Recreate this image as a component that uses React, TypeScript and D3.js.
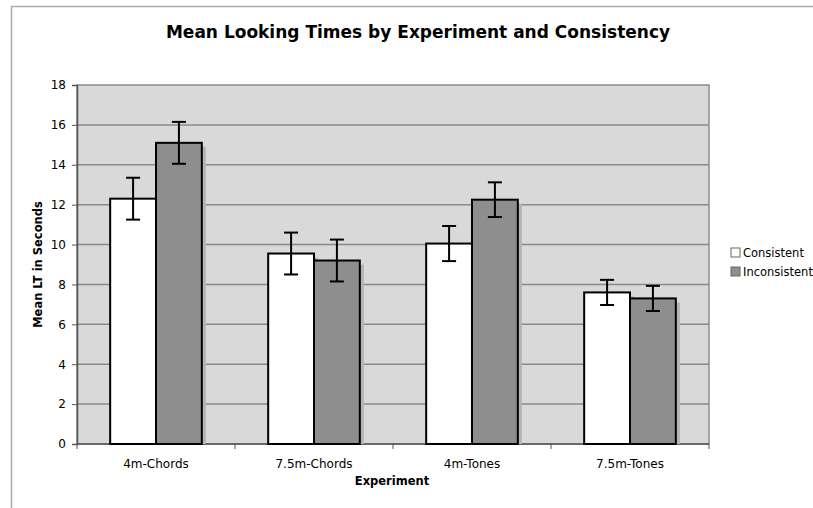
import React, { useRef, useEffect } from "react";
import * as d3 from "d3";

const categories = ["4m-Chords", "7.5m-Chords", "4m-Tones", "7.5m-Tones"];
const seriesNames = ["Consistent", "Inconsistent"];
const consistent = [12.3, 9.55, 10.05, 7.6];
const inconsistent = [15.1, 9.2, 12.25, 7.3];
const consistentErr = [1.05, 1.05, 0.88, 0.63];
const inconsistentErr = [1.05, 1.05, 0.87, 0.63];
const yTicks = [0, 2, 4, 6, 8, 10, 12, 14, 16, 18];

const colors = ["#ffffff", "#8e8e8e"];
const font = "'DejaVu Sans', Verdana, sans-serif";

const App = () => {
  const ref = useRef<SVGSVGElement>(null);

  useEffect(() => {
    const svg = d3.select(ref.current);
    svg.selectAll("*").remove();

    const left = 77, right = 709, top = 85, bottom = 444;

    const x = d3.scaleBand().domain(categories).range([left, right]);
    const y = d3.scaleLinear().domain([0, 18]).range([bottom, top]);
    const barW = x.bandwidth() * 0.29;

    // frame
    svg.append("path")
      .attr("d", "M11.5,508 L11.5,6.5 L813,6.5")
      .attr("fill", "none")
      .attr("stroke", "#aaa")
      .attr("stroke-width", 1.5);

    svg.append("text")
      .attr("x", 418).attr("y", 38)
      .attr("text-anchor", "middle")
      .attr("font-family", font)
      .attr("font-weight", "bold")
      .attr("font-size", 17)
      .text("Mean Looking Times by Experiment and Consistency");

    // plot background
    svg.append("rect")
      .attr("x", left).attr("y", top)
      .attr("width", right - left).attr("height", bottom - top)
      .attr("fill", "#d9d9d9")
      .attr("stroke", "#8c8c8c")
      .attr("stroke-width", 1.5);

    // grid lines
    svg.append("g").selectAll("line")
      .data(yTicks.filter(d => d > 0 && d < 18))
      .join("line")
      .attr("x1", left).attr("x2", right)
      .attr("y1", d => y(d)).attr("y2", d => y(d))
      .attr("stroke", "#8a8a8a")
      .attr("stroke-width", 1.5);

    // y axis
    const yAxis = svg.append("g")
      .attr("transform", `translate(${left},0)`)
      .call(d3.axisLeft(y).tickValues(yTicks).tickSize(5).tickPadding(6));
    yAxis.select(".domain").attr("stroke", "#555").attr("stroke-width", 1.5);
    yAxis.selectAll(".tick line").attr("stroke", "#555");
    yAxis.selectAll("text").attr("font-family", font).attr("font-size", 12).attr("fill", "#000");

    // x axis
    const xAxis = svg.append("g")
      .attr("transform", `translate(0,${bottom})`);
    xAxis.append("line")
      .attr("x1", left).attr("x2", right)
      .attr("stroke", "#555").attr("stroke-width", 1.5);
    const bounds = categories.map(c => x(c)!).concat([right]);
    xAxis.selectAll("line.tk")
      .data(bounds)
      .join("line")
      .attr("class", "tk")
      .attr("x1", d => d).attr("x2", d => d)
      .attr("y1", 0).attr("y2", 5)
      .attr("stroke", "#555");
    xAxis.selectAll("text")
      .data(categories)
      .join("text")
      .attr("x", d => x(d)! + x.bandwidth() / 2)
      .attr("y", 24)
      .attr("text-anchor", "middle")
      .attr("font-family", font)
      .attr("font-size", 12)
      .text(d => d);

    const series = [
      { vals: consistent, errs: consistentErr },
      { vals: inconsistent, errs: inconsistentErr },
    ];

    series.forEach((s, si) => {
      const g = svg.append("g");
      const bx = (i: number) => x(categories[i])! + x.bandwidth() / 2 - barW + si * barW;
      // shadow
      g.selectAll("rect.sh")
        .data(s.vals)
        .join("rect")
        .attr("class", "sh")
        .attr("x", (_, i) => bx(i) + 4)
        .attr("y", d => y(d) + 4)
        .attr("width", barW)
        .attr("height", d => bottom - y(d) - 4)
        .attr("fill", "#b4b4b4");
    });

    series.forEach((s, si) => {
      const g = svg.append("g");
      const bx = (i: number) => x(categories[i])! + x.bandwidth() / 2 - barW + si * barW;
      g.selectAll("rect.bar")
        .data(s.vals)
        .join("rect")
        .attr("class", "bar")
        .attr("x", (_, i) => bx(i))
        .attr("y", d => y(d))
        .attr("width", barW)
        .attr("height", d => bottom - y(d))
        .attr("fill", colors[si])
        .attr("stroke", "#000")
        .attr("stroke-width", 2);
    });

    series.forEach((s, si) => {
      const g = svg.append("g");
      s.vals.forEach((v, i) => {
        const cx = x(categories[i])! + x.bandwidth() / 2 - barW / 2 + si * barW;
        const lo = y(v - s.errs[i]), hi = y(v + s.errs[i]);
        g.append("line").attr("x1", cx).attr("x2", cx).attr("y1", lo).attr("y2", hi)
          .attr("stroke", "#000").attr("stroke-width", 2);
        [lo, hi].forEach(yy => {
          g.append("line").attr("x1", cx - 7).attr("x2", cx + 7).attr("y1", yy).attr("y2", yy)
            .attr("stroke", "#000").attr("stroke-width", 2);
        });
      });
    });

    // axis titles
    svg.append("text")
      .attr("x", 392).attr("y", 485)
      .attr("text-anchor", "middle")
      .attr("font-family", font)
      .attr("font-weight", "bold")
      .attr("font-size", 11.5)
      .text("Experiment");

    svg.append("text")
      .attr("transform", `translate(42,${(top + bottom) / 2}) rotate(-90)`)
      .attr("text-anchor", "middle")
      .attr("font-family", font)
      .attr("font-weight", "bold")
      .attr("font-size", 11.5)
      .text("Mean LT in Seconds");

    // legend
    const lg = svg.append("g").attr("transform", "translate(731,248)");
    seriesNames.forEach((n, i) => {
      lg.append("rect")
        .attr("x", 0).attr("y", i * 19)
        .attr("width", 9).attr("height", 9)
        .attr("fill", colors[i])
        .attr("stroke", "#666");
      lg.append("text")
        .attr("x", 12).attr("y", i * 19 + 9)
        .attr("font-family", font)
        .attr("font-size", 11.5)
        .text(n);
    });
  }, []);

  return (
    <svg ref={ref} width={813} height={508}
      style={{ position: "absolute", left: 0, top: 0, background: "#fff" }} />
  );
};

export default App;
